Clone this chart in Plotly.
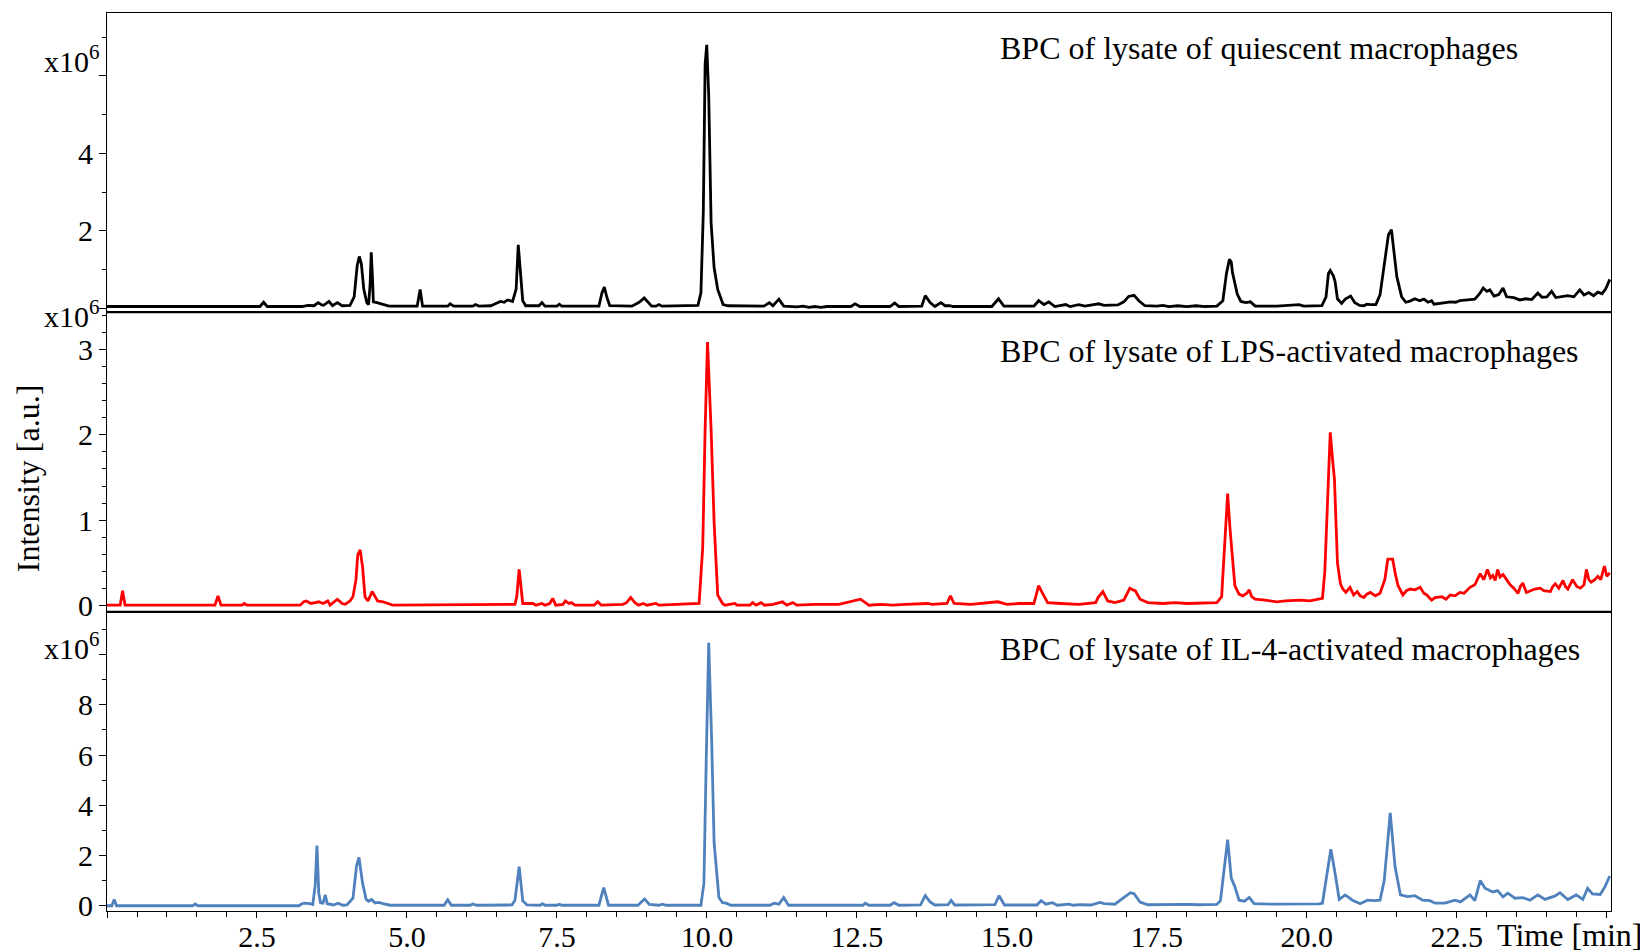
import plotly.graph_objects as go
from plotly.subplots import make_subplots

# ---------------- data ----------------
# BPC of lysate of quiescent macrophages (x10^6)
t_quiescent = [0.0, 2.55, 2.61, 2.67, 3.25, 3.35, 3.45, 3.52, 3.58, 3.61, 3.70, 3.76, 3.84, 3.92, 4.05, 4.12,
               4.17, 4.205, 4.24, 4.28, 4.33, 4.36, 4.385, 4.405, 4.425, 4.44, 4.5, 4.58, 4.7, 5.17, 5.22, 5.26,
               5.68, 5.72, 5.78, 6.1, 6.14, 6.2, 6.4, 6.5, 6.56, 6.62, 6.68, 6.76, 6.82, 6.855, 6.89, 6.93, 6.98,
               7.2, 7.25, 7.3, 7.5, 7.54, 7.58, 8.2, 8.25, 8.29, 8.33, 8.38, 8.75, 8.8, 8.87, 8.955, 9.02, 9.08,
               9.15, 9.2, 9.25, 9.85, 9.9, 9.94, 9.97, 9.997, 10.03, 10.07, 10.12, 10.18, 10.27, 10.35, 10.95,
               11.04, 11.1, 11.2, 11.28, 11.5, 11.6, 11.7, 11.8, 11.9, 12.0, 12.4, 12.47, 12.55, 13.05, 13.13,
               13.2, 13.58, 13.64, 13.72, 13.8, 13.9, 13.97, 14.05, 14.1, 14.75, 14.86, 14.95, 15.45, 15.53,
               15.62, 15.7, 15.8, 15.98, 16.05, 16.2, 16.3, 16.53, 16.62, 16.85, 16.95, 17.03, 17.12, 17.2, 17.3,
               17.5, 17.6, 17.7, 17.85, 18.0, 18.15, 18.3, 18.5, 18.6, 18.66, 18.71, 18.74, 18.76, 18.84, 18.9,
               18.98, 19.06, 19.14, 19.5, 19.87, 19.95, 20.25, 20.32, 20.36, 20.39, 20.44, 20.47, 20.51, 20.58,
               20.64, 20.73, 20.8, 20.88, 20.95, 21.0, 21.06, 21.15, 21.22, 21.3, 21.36, 21.41, 21.46, 21.5,
               21.58, 21.65, 21.72, 21.8, 21.88, 21.95, 22.02, 22.08, 22.12, 22.2, 22.3, 22.4, 22.48, 22.55,
               22.68, 22.8, 22.88, 22.94, 23.0, 23.05, 23.12, 23.2, 23.27, 23.33, 23.45, 23.55, 23.65, 23.75,
               23.85, 23.92, 24.0, 24.08, 24.15, 24.25, 24.35, 24.45, 24.55, 24.62, 24.7, 24.78, 24.85, 24.92,
               24.98, 25.05]
i_quiescent = [0.05, 0.05, 0.16, 0.05, 0.05, 0.08, 0.07, 0.15, 0.09, 0.08, 0.18, 0.07, 0.15, 0.07, 0.08, 0.3,
               1.1, 1.34, 1.15, 0.5, 0.15, 0.1, 0.6, 1.45, 0.8, 0.17, 0.15, 0.12, 0.06, 0.06, 0.49, 0.06,
               0.06, 0.12, 0.06, 0.06, 0.1, 0.06, 0.07, 0.14, 0.18, 0.16, 0.22, 0.18, 0.5, 1.64, 1.0, 0.2, 0.07,
               0.07, 0.15, 0.06, 0.06, 0.11, 0.06, 0.06, 0.4, 0.55, 0.3, 0.07, 0.06, 0.1, 0.16, 0.27, 0.15, 0.06,
               0.06, 0.1, 0.06, 0.08, 0.4, 2.5, 6.3, 6.8, 5.5, 2.2, 1.05, 0.49, 0.1, 0.07, 0.06,
               0.15, 0.07, 0.24, 0.06, 0.04, 0.06, 0.03, 0.05, 0.03, 0.05, 0.05, 0.12, 0.05, 0.05, 0.14,
               0.05, 0.06, 0.33, 0.15, 0.05, 0.15, 0.07, 0.07, 0.05, 0.05, 0.25, 0.06, 0.06, 0.2,
               0.1, 0.17, 0.05, 0.1, 0.05, 0.1, 0.06, 0.12, 0.08, 0.09, 0.17, 0.31, 0.34, 0.2, 0.07,
               0.06, 0.08, 0.05, 0.07, 0.05, 0.07, 0.05, 0.06, 0.2, 0.9, 1.27, 1.2, 0.93, 0.37, 0.18,
               0.15, 0.17, 0.06, 0.06, 0.1, 0.06, 0.07, 0.3, 0.9, 0.98, 0.85, 0.7, 0.25, 0.13,
               0.24, 0.32, 0.15, 0.08, 0.07, 0.11, 0.1, 0.1, 0.35, 1.2, 1.9, 2.03, 1.4, 0.82,
               0.3, 0.16, 0.19, 0.25, 0.2, 0.24, 0.16, 0.2, 0.11, 0.13, 0.14, 0.17, 0.16, 0.2,
               0.22, 0.24, 0.38, 0.53, 0.44, 0.48, 0.32, 0.36, 0.53, 0.3, 0.28, 0.22, 0.25, 0.23,
               0.4, 0.29, 0.3, 0.44, 0.28, 0.3, 0.33, 0.3, 0.48, 0.35, 0.41, 0.33, 0.42, 0.38,
               0.5, 0.75]

# BPC of lysate of LPS-activated macrophages (x10^6)
t_lps = [0.0, 0.22, 0.26, 0.3, 1.8, 1.85, 1.9, 2.25, 2.29, 2.33, 3.22, 3.28, 3.32, 3.4, 3.47, 3.53, 3.6, 3.68,
         3.72, 3.84, 3.92, 3.97, 4.05, 4.1, 4.15, 4.18, 4.22, 4.26, 4.3, 4.35, 4.42, 4.47, 4.51, 4.6, 4.64,
         4.76, 6.8, 6.83, 6.87, 6.9, 6.93, 7.1, 7.15, 7.25, 7.3, 7.38, 7.43, 7.48, 7.6, 7.64, 7.7, 7.74, 7.8,
         8.12, 8.18, 8.24, 8.6, 8.66, 8.73, 8.8, 8.86, 8.94, 9.0, 9.15, 9.2, 9.87, 9.93, 9.97, 10.01, 10.07,
         10.12, 10.18, 10.26, 10.3, 10.47, 10.5, 10.72, 10.76, 10.82, 10.9, 10.96, 11.1, 11.26, 11.33, 11.43,
         11.5, 11.8, 12.2, 12.56, 12.64, 12.7, 12.9, 13.1, 13.3, 13.68, 13.75, 14.0, 14.06, 14.12, 14.4, 14.6,
         14.85, 15.0, 15.2, 15.45, 15.5, 15.53, 15.58, 15.68, 15.9, 16.2, 16.48, 16.52, 16.6, 16.68, 16.8,
         16.95, 17.0, 17.05, 17.1, 17.14, 17.22, 17.35, 17.6, 17.8, 18.0, 18.3, 18.5, 18.58, 18.62, 18.68,
         18.72, 18.76, 18.8, 18.87, 18.93, 19.0, 19.04, 19.08, 19.14, 19.3, 19.5, 19.64, 19.89, 20.05, 20.2,
         20.26, 20.3, 20.34, 20.39, 20.43, 20.46, 20.51, 20.56, 20.6, 20.65, 20.72, 20.78, 20.84, 20.89,
         20.95, 21.0, 21.06, 21.14, 21.22, 21.3, 21.35, 21.43, 21.48, 21.52, 21.6, 21.66, 21.72, 21.8, 21.89,
         21.95, 22.0, 22.08, 22.14, 22.25, 22.32, 22.39, 22.47, 22.55, 22.62, 22.72, 22.8, 22.86, 22.89,
         22.95, 23.01, 23.06, 23.1, 23.14, 23.18, 23.22, 23.27, 23.33, 23.39, 23.45, 23.52, 23.56, 23.6,
         23.66, 23.72, 23.8, 23.89, 23.95, 24.06, 24.1, 24.14, 24.2, 24.27, 24.31, 24.35, 24.43, 24.5, 24.56,
         24.62, 24.66, 24.7, 24.74, 24.8, 24.85, 24.9, 24.96, 25.0, 25.05]
i_lps = [0.0, 0.0, 0.17, 0.0, 0.0, 0.11, 0.0, 0.0, 0.02, 0.0, 0.0, 0.04, 0.05, 0.02, 0.03, 0.04, 0.02, 0.05,
         0.0, 0.07, 0.02, 0.01, 0.05, 0.1, 0.3, 0.59, 0.65, 0.45, 0.1, 0.05, 0.16, 0.1, 0.05, 0.04, 0.03,
         0.0, 0.01, 0.1, 0.42, 0.2, 0.02, 0.02, 0.0, 0.02, 0.0, 0.02, 0.08, 0.0, 0.01, 0.05, 0.02, 0.03, 0.0,
         0.0, 0.04, 0.0, 0.01, 0.03, 0.09, 0.03, 0.0, 0.02, 0.0, 0.02, 0.0, 0.02, 0.68, 2.06, 3.09, 2.06,
         0.97, 0.12, 0.02, 0.0, 0.02, 0.0, 0.0, 0.03, 0.0, 0.03, 0.0, 0.01, 0.04, 0.0, 0.03,
         0.0, 0.01, 0.01, 0.07, 0.03, 0.0, 0.01, 0.0, 0.01, 0.02, 0.01, 0.02, 0.11, 0.02, 0.01, 0.02,
         0.04, 0.01, 0.02, 0.02, 0.17, 0.23, 0.16, 0.03, 0.02, 0.01, 0.03, 0.09, 0.16, 0.05, 0.03,
         0.06, 0.13, 0.2, 0.18, 0.17, 0.07, 0.03, 0.02, 0.03, 0.02, 0.03, 0.03, 0.1, 0.6, 1.31,
         0.89, 0.5, 0.23, 0.13, 0.11, 0.14, 0.18, 0.1, 0.07, 0.06, 0.04, 0.05, 0.06, 0.05, 0.07,
         0.08, 0.4, 1.2, 2.03, 1.7, 1.48, 0.5, 0.25, 0.19, 0.15, 0.21, 0.12, 0.16, 0.11,
         0.09, 0.13, 0.15, 0.11, 0.14, 0.3, 0.54, 0.54, 0.35, 0.23, 0.12, 0.17, 0.19, 0.18, 0.21,
         0.14, 0.12, 0.06, 0.09, 0.1, 0.07, 0.12, 0.11, 0.15, 0.14, 0.21, 0.24, 0.33, 0.37,
         0.3, 0.42, 0.32, 0.35, 0.29, 0.42, 0.33, 0.36, 0.3, 0.24, 0.2, 0.14, 0.22, 0.26,
         0.15, 0.17, 0.19, 0.2, 0.17, 0.16, 0.22, 0.25, 0.2, 0.29, 0.22, 0.19, 0.3, 0.22, 0.2,
         0.24, 0.42, 0.3, 0.27, 0.3, 0.34, 0.3, 0.46, 0.34, 0.38]

# BPC of lysate of IL-4-activated macrophages (x10^6)
t_il4 = [0.0, 0.08, 0.12, 0.16, 1.43, 1.47, 1.51, 3.2, 3.25, 3.29, 3.38, 3.43, 3.47, 3.5, 3.53, 3.56, 3.6, 3.64,
         3.67, 3.72, 3.78, 3.85, 3.93, 4.0, 4.1, 4.16, 4.2, 4.26, 4.32, 4.36, 4.41, 4.47, 4.53, 4.6, 4.72,
         5.62, 5.68, 5.74, 6.05, 6.1, 6.16, 6.75, 6.8, 6.87, 6.93, 7.0, 7.22, 7.26, 7.3, 7.5, 7.54, 7.58,
         8.2, 8.28, 8.36, 8.85, 8.9, 8.96, 9.04, 9.2, 9.26, 9.32, 9.9, 9.95, 9.99, 10.03, 10.08, 10.12, 10.2,
         10.26, 10.32, 10.4, 11.05, 11.12, 11.2, 11.28, 11.36, 12.6, 12.64, 12.7, 13.05, 13.12, 13.2, 13.56,
         13.64, 13.72, 13.8, 14.02, 14.07, 14.13, 14.2, 14.8, 14.87, 14.96, 15.5, 15.57, 15.65, 15.76, 15.84,
         16.04, 16.1, 16.22, 16.4, 16.55, 16.62, 16.8, 16.97, 17.06, 17.12, 17.22, 17.35, 17.6, 17.8, 18.0,
         18.2, 18.5, 18.56, 18.6, 18.68, 18.74, 18.8, 18.87, 18.96, 19.04, 19.12, 19.4, 19.7, 20.0, 20.2,
         20.26, 20.32, 20.4, 20.47, 20.54, 20.64, 20.76, 20.89, 21.01, 21.12, 21.22, 21.29, 21.39, 21.47,
         21.56, 21.68, 21.8, 21.93, 22.05, 22.14, 22.3, 22.47, 22.56, 22.72, 22.8, 22.89, 22.97, 23.1, 23.18,
         23.27, 23.35, 23.47, 23.6, 23.72, 23.85, 23.97, 24.14, 24.22, 24.35, 24.49, 24.6, 24.68, 24.76,
         24.89, 24.97, 25.05]
i_il4 = [0.0, 0.0, 0.25, 0.0, 0.0, 0.07, 0.0, 0.0, 0.08, 0.1, 0.08, 0.05, 0.8, 2.4, 0.5, 0.12, 0.1, 0.43,
         0.08, 0.05, 0.03, 0.1, 0.02, 0.03, 0.3, 1.6, 1.92, 0.9, 0.25, 0.18, 0.25, 0.11, 0.13, 0.08, 0.02,
         0.02, 0.24, 0.02, 0.02, 0.07, 0.02, 0.03, 0.22, 1.56, 0.2, 0.03, 0.02, 0.08, 0.02, 0.02, 0.06, 0.02,
         0.02, 0.72, 0.02, 0.02, 0.12, 0.27, 0.05, 0.02, 0.06, 0.02, 0.02, 0.9, 6.0, 10.47, 6.5, 2.5, 0.33,
         0.12, 0.1, 0.02, 0.02, 0.1, 0.06, 0.33, 0.02, 0.02, 0.1, 0.02, 0.02, 0.12, 0.02, 0.03,
         0.4, 0.15, 0.03, 0.04, 0.21, 0.03, 0.03, 0.04, 0.4, 0.03, 0.03, 0.2, 0.06, 0.12, 0.02,
         0.06, 0.02, 0.04, 0.03, 0.13, 0.08, 0.06, 0.36, 0.52, 0.48, 0.15, 0.04, 0.05, 0.04, 0.05,
         0.04, 0.05, 0.2, 1.1, 2.63, 1.1, 0.76, 0.22, 0.18, 0.33, 0.08, 0.06, 0.06, 0.05, 0.07,
         0.1, 1.0, 2.25, 1.3, 0.25, 0.43, 0.22, 0.08, 0.22, 0.2, 0.22, 1.0, 3.7, 1.56,
         0.43, 0.36, 0.4, 0.22, 0.2, 0.1, 0.1, 0.22, 0.15, 0.43, 0.2, 1.0, 0.7, 0.55, 0.6,
         0.35, 0.5, 0.3, 0.32, 0.22, 0.43, 0.25, 0.39, 0.52, 0.25, 0.43, 0.25, 0.69, 0.47,
         0.45, 0.76, 1.18]

panel_titles = ["BPC of lysate of quiescent macrophages",
                "BPC of lysate of LPS-activated macrophages",
                "BPC of lysate of IL-4-activated macrophages"]
series_colors = ["#000000", "#FF0000", "#4F81BD"]

x_tickvals = [0, 2.5, 5.0, 7.5, 10.0, 12.5, 15.0, 17.5, 20.0, 22.5, 25.0]
x_ticktext = ["", "2.5", "5.0", "7.5", "10.0", "12.5", "15.0", "17.5", "20.0", "22.5", ""]

y1_tickvals = [0, 2, 4, 6]
y1_ticktext = ["", "2", "4", ""]
y2_tickvals = [0, 1, 2, 3]
y2_ticktext = ["0", "1", "2", "3"]
y3_tickvals = [0, 2, 4, 6, 8, 10]
y3_ticktext = ["0", "2", "4", "6", "8", ""]

# ---------------- figure ----------------
FONT = "Liberation Serif"
fig = make_subplots(rows=3, cols=1, shared_xaxes=True, vertical_spacing=0)

series = [(t_quiescent, i_quiescent), (t_lps, i_lps), (t_il4, i_il4)]
for k, (tt, yy) in enumerate(series):
    fig.add_trace(go.Scatter(x=tt, y=yy, mode="lines",
                             line=dict(color=series_colors[k], width=2.8),
                             showlegend=False, hoverinfo="skip"),
                  row=k + 1, col=1)

axis_common = dict(showline=True, linecolor="black", linewidth=1, mirror=True,
                   showgrid=False, zeroline=False, automargin=False,
                   tickfont=dict(family=FONT, size=30, color="black"))

for r in (1, 2, 3):
    xa = dict(axis_common, range=[0, 25.07])
    if r == 3:
        xa.update(tickmode="array", tickvals=x_tickvals, ticktext=x_ticktext,
                  ticks="outside", ticklen=6, tickcolor="black", showticklabels=True,
                  ticklabelstandoff=-7,
                  minor=dict(tickmode="linear", tick0=0, dtick=0.5, ticks="outside",
                             ticklen=5, tickcolor="black"))
    else:
        xa.update(ticks="", showticklabels=False)
    fig.update_xaxes(xa, row=r, col=1)

fig.update_yaxes(axis_common, row=1, col=1, range=[-0.1, 7.62], tickmode="array",
                 tickvals=y1_tickvals, ticktext=y1_ticktext, ticks="outside", ticklen=7,
                 tickcolor="black",
                 minor=dict(tickmode="linear", tick0=0, dtick=1, ticks="outside",
                            ticklen=4, tickcolor="black"))
fig.update_yaxes(axis_common, row=2, col=1, range=[-0.076, 3.44], tickmode="array",
                 tickvals=y2_tickvals, ticktext=y2_ticktext, ticks="outside", ticklen=7,
                 tickcolor="black",
                 minor=dict(tickmode="linear", tick0=0, dtick=0.2, ticks="outside",
                            ticklen=4, tickcolor="black"))
fig.update_yaxes(axis_common, row=3, col=1, range=[-0.21, 11.71], tickmode="array",
                 tickvals=y3_tickvals, ticktext=y3_ticktext, ticks="outside", ticklen=7,
                 tickcolor="black",
                 minor=dict(tickmode="linear", tick0=0, dtick=1, ticks="outside",
                            ticklen=4, tickcolor="black"))

# separators between the stacked panels
for yp in (1 / 3, 2 / 3):
    fig.add_shape(type="line", xref="paper", yref="paper", x0=0, x1=1, y0=yp, y1=yp,
                  line=dict(color="black", width=2))

ann_font = dict(family=FONT, size=32, color="black")
title_y = [0.961, 0.6236, 0.2918]
for k in range(3):
    fig.add_annotation(text=panel_titles[k], xref="paper", yref="paper", x=0.5925, y=title_y[k],
                       xanchor="left", yanchor="middle", showarrow=False, font=ann_font)

mult_y = [0.949, 0.665, 0.295]
for yp in mult_y:
    fig.add_annotation(text="x10<sup>6</sup>", xref="paper", yref="paper", x=-0.003, y=yp,
                       xanchor="right", yanchor="middle", showarrow=False,
                       font=dict(family=FONT, size=30, color="black"))

fig.add_annotation(text="Intensity [a.u.]", xref="paper", yref="paper", x=-0.0525, y=0.482,
                   xanchor="center", yanchor="middle", textangle=-90, showarrow=False,
                   font=ann_font)
fig.add_annotation(text="Time [min]", xref="paper", yref="paper", x=0.9727, y=-0.0267,
                   xanchor="center", yanchor="middle", showarrow=False,
                   font=dict(family=FONT, size=32, color="black"))

# the page places the figure 8 px from the top-left corner; sizes below compensate
fig.update_layout(width=1640, height=944, margin=dict(l=99, r=37, t=5, b=41, autoexpand=False),
                  paper_bgcolor="white", plot_bgcolor="white",
                  font=dict(family=FONT, color="black"))

fig.write_html("out.html")
